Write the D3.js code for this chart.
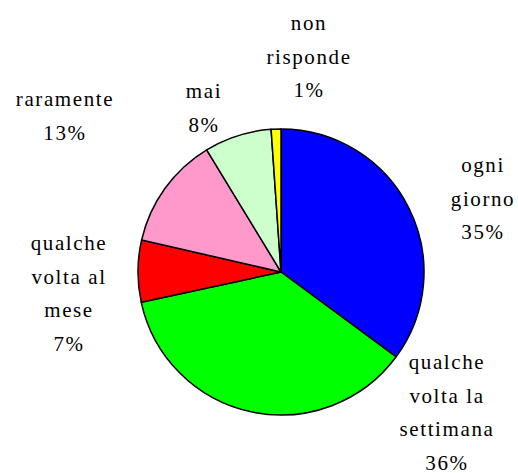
<!DOCTYPE html>
<html>
<head>
<meta charset="utf-8">
<script src="https://cdn.jsdelivr.net/npm/d3@7"></script>
<style>
body{margin:0;background:#fff;}
</style>
</head>
<body>
<div id="chart"></div>
<script>
//DATA
const categories = ["ogni giorno","qualche volta la settimana","qualche volta al mese","raramente","mai","non risponde"];
const values = [35.1, 36.5, 7.0, 12.7, 7.6, 1.1];
const pctLabels = ["35%","36%","7%","13%","8%","1%"];
const colors = ["#0000ff","#00ff00","#ff0000","#ff99cc","#ccffcc","#ffff00"];
// label lines as shown in the picture
const labelLines = [
  ["ogni","giorno"],
  ["qualche","volta la","settimana"],
  ["qualche","volta al","mese"],
  ["raramente"],
  ["mai"],
  ["non","risponde"]
];

//LAYOUT
const W = 518, H = 473;
const cx = 281, cy = 272, r = 143;
const lineH = 33.5;
// label anchor: x centre and baseline of first line
const labelPos = [[483,172],[447,369],[69,250],[65,106],[204,98],[309,30]];

const svg = d3.select("#chart").append("svg").attr("width",W).attr("height",H);

const pie = d3.pie().sort(null).value(d => d);
const arc = d3.arc().innerRadius(0).outerRadius(r);

const g = svg.append("g").attr("transform",`translate(${cx},${cy})`);
g.selectAll("path").data(pie(values)).join("path")
  .attr("d",arc)
  .attr("fill",(d,i) => colors[i])
  .attr("stroke","#000")
  .attr("stroke-width",1.5)
  .attr("stroke-linejoin","round");

//Labels
const labels = svg.append("g");
categories.forEach((c,i) => {
  const lines = labelLines[i].concat([pctLabels[i]]);
  lines.forEach((s,j) => {
    labels.append("text")
      .attr("x",labelPos[i][0]).attr("y",labelPos[i][1] + j*lineH)
      .attr("text-anchor","middle")
      .style("font-family","'Liberation Serif', serif")
      .style("font-size","21px")
      .style("letter-spacing","1.6px")
      .style("fill","#000")
      .text(s);
  });
});
</script>
</body>
</html>
